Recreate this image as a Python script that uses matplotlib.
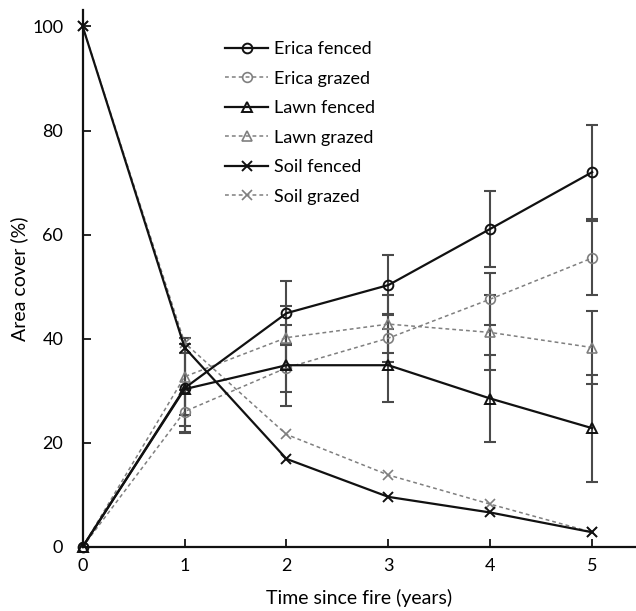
import numpy as np
import matplotlib
matplotlib.use("Agg")
import matplotlib.pyplot as plt

plt.rcParams['font.family'] = ['Lato', 'DejaVu Sans']

# Data
years = [0, 1, 2, 3, 4, 5]

erica_fenced = [0, 30.5, 44.9, 50.3, 61.1, 72.0]
erica_fenced_err = [0, 8.5, 6.1, 5.8, 7.3, 9.0]
erica_grazed = [0, 26.0, 34.4, 40.1, 47.6, 55.5]
erica_grazed_err = [0, 4.2, 4.6, 4.6, 5.0, 7.2]

lawn_fenced = [0, 30.3, 34.9, 34.9, 28.5, 22.8]
lawn_fenced_err = [0, 7.0, 7.8, 7.0, 8.4, 10.3]
lawn_grazed = [0, 32.7, 40.2, 42.8, 41.2, 38.3]
lawn_grazed_err = [0, 7.4, 6.1, 5.5, 7.2, 7.0]

soil_fenced = [100, 38.3, 16.9, 9.6, 6.6, 2.8]
soil_grazed = [100, 39.2, 21.6, 13.8, 8.2, 2.8]

fig = plt.figure(figsize=(6.36, 6.11), dpi=100)
ax = fig.add_axes([0.130, 0.105, 0.870, 0.879])

black = '#111111'
gray = '#7f7f7f'
errc = '#4a4a4a'

fenced_kw = dict(color=black, lw=1.6, ls='-', mfc='none', mec=black, mew=1.4, ms=7)
grazed_kw = dict(color=gray, lw=1.1, ls=(0, (2.5, 2)), mfc='none', mec=gray, mew=1.2, ms=7)
eb_kw = dict(fmt='none', ecolor=errc, elinewidth=1.5, capsize=4.5, capthick=1.5, zorder=1)

ax.errorbar(years[1:], erica_fenced[1:], yerr=erica_fenced_err[1:], **eb_kw)
ax.errorbar(years[1:], erica_grazed[1:], yerr=erica_grazed_err[1:], **eb_kw)
ax.errorbar(years[1:], lawn_fenced[1:], yerr=lawn_fenced_err[1:], **eb_kw)
ax.errorbar(years[1:], lawn_grazed[1:], yerr=lawn_grazed_err[1:], **eb_kw)

ax.plot(years, erica_fenced, marker='o', label='Erica fenced', zorder=3, **fenced_kw)
ax.plot(years, erica_grazed, marker='o', label='Erica grazed', zorder=2, **grazed_kw)
ax.plot(years, lawn_fenced, marker='^', label='Lawn fenced', zorder=3, **fenced_kw)
ax.plot(years, lawn_grazed, marker='^', label='Lawn grazed', zorder=2, **grazed_kw)
ax.plot(years, soil_fenced, marker='x', label='Soil fenced', zorder=3, **fenced_kw)
ax.plot(years, soil_grazed, marker='x', label='Soil grazed', zorder=2, **grazed_kw)

ax.set_xlim(0, 5.43)
ax.set_ylim(0, 103.2)
ax.set_xticks(years)
ax.set_yticks([0, 20, 40, 60, 80, 100])
ax.tick_params(axis='both', direction='in', length=6, width=1.2, labelsize=13)
ax.tick_params(axis='y', pad=14)
ax.tick_params(axis='x', pad=8)
for s in ['top', 'right']:
    ax.spines[s].set_visible(False)
for s in ['left', 'bottom']:
    ax.spines[s].set_linewidth(1.6)
    ax.spines[s].set_color(black)
for line in ax.lines:
    line.set_clip_on(False)

ax.set_xlabel('Time since fire (years)', fontsize=14, labelpad=11)
ax.set_ylabel('Area cover (%)', fontsize=14, labelpad=3)

ax.legend(loc='upper left', bbox_to_anchor=(0.228, 0.972), frameon=False,
          fontsize=13, handlelength=2.4, handletextpad=0.3, labelspacing=0.75)

fig.savefig('out.png', dpi=100)
